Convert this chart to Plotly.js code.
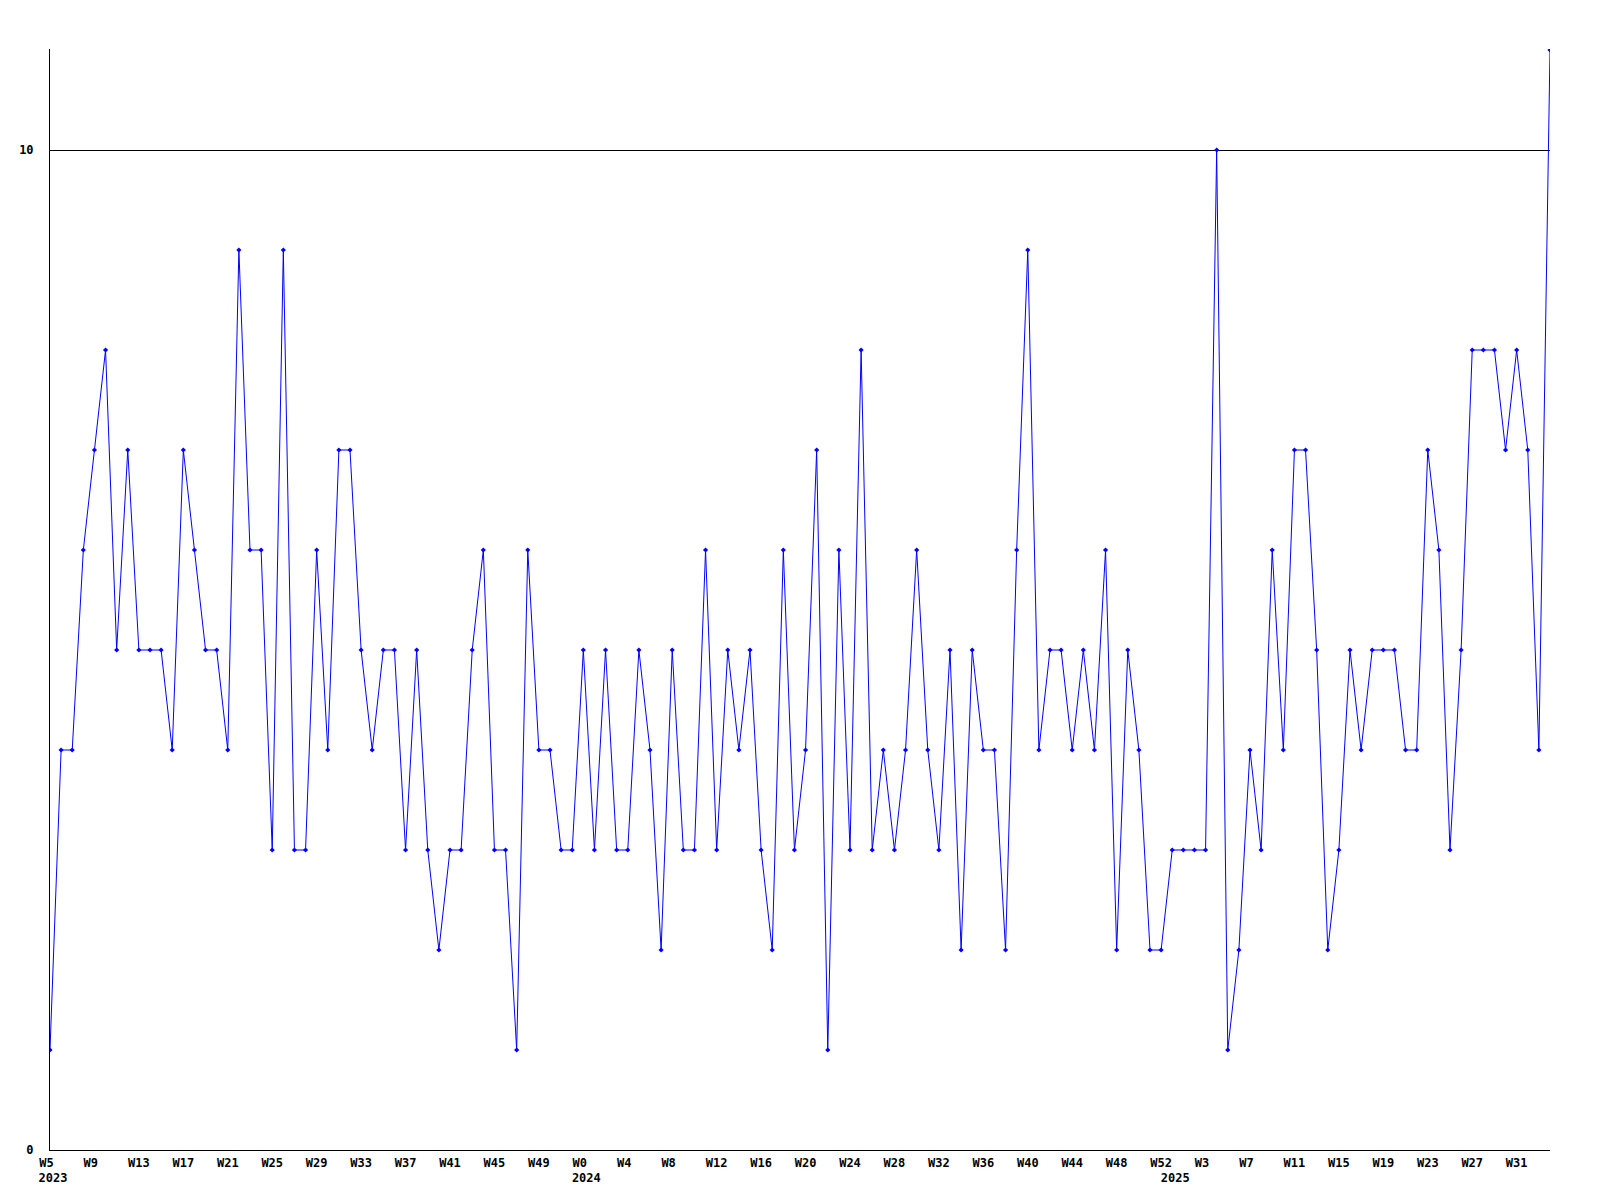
<!DOCTYPE html>
<html>
<head>
<meta charset="utf-8">
<script src="https://cdn.plot.ly/plotly-3.0.1.min.js"></script>
<style>html,body{margin:0;padding:0;background:#fff;}#chart{width:1600px;height:1200px;}</style>
</head>
<body>
<div id="chart"></div>
<script>
// Weekly values, 2023-W5 .. 2025-W34
const values = [
  1,4,4,6,7,8,5,7,5,5,
  5,4,7,6,5,5,4,9,6,6,
  3,9,3,3,6,4,7,7,5,4,
  5,5,3,5,3,2,3,3,5,6,
  3,3,1,6,4,4,3,3,5,3,
  5,3,3,5,4,2,5,3,3,6,
  3,5,4,5,3,2,6,3,4,7,
  1,6,3,8,3,4,3,4,6,4,
  3,5,2,5,4,4,2,6,9,4,
  5,5,4,5,4,6,2,5,4,2,
  2,3,3,3,3,10,1,2,4,3,
  6,4,7,7,5,2,3,5,4,5,
  5,5,4,4,7,6,3,5,8,8,
  8,7,8,7,4,11
];
// Week tick labels, one every 4 weeks
const weekTicks = ["W5","W9","W13","W17","W21","W25","W29","W33","W37","W41","W45","W49",
  "W0","W4","W8","W12","W16","W20","W24","W28","W32","W36","W40","W44","W48","W52",
  "W3","W7","W11","W15","W19","W23","W27","W31"];
const weekTickStep = 4;
// Year labels and the index of the first week of each year
const years = ["2023","2024","2025"];
const yearStart = [0, 48, 101];
// Y ticks
const yTicks = [0, 10];

const xIdx = values.map((_, i) => i);
const pad = s => s.length < 3 ? s + "\u00a0".repeat(3 - s.length) : s;
const font = {family: "DejaVu Sans Mono, Liberation Mono, monospace", size: 12, color: "#000", weight: "bold"};
const xRange = [0, values.length - 1];

const trace = {
  x: xIdx, y: values, type: "scatter", mode: "lines+markers",
  line: {color: "#0000ff", width: 1},
  marker: {color: "#0000ff", size: 4, symbol: "diamond"},
  cliponaxis: true, hoverinfo: "x+y"
};

const layout = {
  width: 1600, height: 1200,
  margin: {l: 50, r: 50, t: 49, b: 50},
  paper_bgcolor: "#fff", plot_bgcolor: "#fff",
  showlegend: false,
  font: font,
  xaxis: {
    range: xRange, showgrid: false, zeroline: false,
    showline: true, linecolor: "#000", linewidth: 1,
    tickmode: "array",
    tickvals: weekTicks.map((_, k) => k * weekTickStep),
    ticktext: weekTicks.map(pad),
    ticks: "", ticklabelstandoff: 2,
    tickfont: font, tickangle: 0
  },
  xaxis2: {
    overlaying: "x", anchor: "y", side: "bottom",
    range: xRange, showgrid: false, zeroline: false, showline: false,
    tickmode: "array", tickvals: yearStart, ticktext: years,
    ticks: "", ticklabelstandoff: 19, ticklabelshift: 3,
    tickfont: font, tickangle: 0
  },
  yaxis: {
    range: [0, 11.01], zeroline: false,
    showline: true, linecolor: "#000", linewidth: 1,
    showgrid: true, gridcolor: "#000", gridwidth: 1,
    tickmode: "array", tickvals: yTicks, ticktext: yTicks.map(String),
    ticks: "", ticklabelstandoff: 13, tickfont: font
  }
};

const yearTrace = {x: [], y: [], xaxis: "x2", yaxis: "y", type: "scatter", mode: "markers", hoverinfo: "skip"};

Plotly.newPlot("chart", [trace, yearTrace], layout, {displayModeBar: false, staticPlot: true});
</script>
</body>
</html>
